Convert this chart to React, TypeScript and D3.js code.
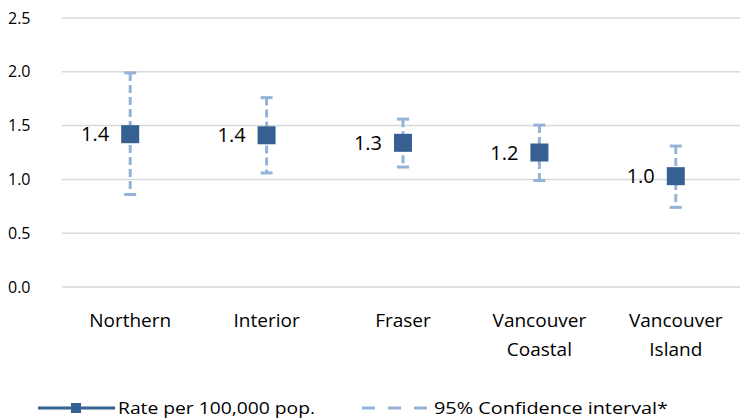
import React from "react";
import * as d3 from "d3";

const categories = [["Northern"], ["Interior"], ["Fraser"], ["Vancouver", "Coastal"], ["Vancouver", "Island"]];
const rates = [1.42, 1.41, 1.34, 1.25, 1.03];
const lower = [0.86, 1.06, 1.115, 0.99, 0.74];
const upper = [1.99, 1.76, 1.56, 1.505, 1.31];
const labels = ["1.4", "1.4", "1.3", "1.2", "1.0"];
const yTicks = [0, 0.5, 1, 1.5, 2, 2.5];

export default function App() {
  const W = 740, H = 419;
  const x = d3.scaleBand<number>().domain(d3.range(5)).range([62, 744]);
  const y = d3.scaleLinear().domain([0, 2.5]).range([287, 18]);
  const font = "'Open Sans', 'DejaVu Sans', sans-serif";
  const ci = "#95B3D7", mk = "#366092";
  return (
    <svg width={W} height={H} style={{ position: "absolute", left: 0, top: 0 }} fontFamily={font}>
      {yTicks.map(t => (
        <g key={t}>
          <line x1={62} x2={740} y1={y(t)} y2={y(t)} stroke="#d9d9d9" strokeWidth={1.5} />
          <text x={8} y={y(t)} dy="0.35em" fontSize={16} fill="#000">{t.toFixed(1)}</text>
        </g>
      ))}
      {rates.map((r, i) => {
        const cx = x(i)! + x.bandwidth() / 2;
        return (
          <g key={i}>
            <line x1={cx} x2={cx} y1={y(upper[i])} y2={y(lower[i])} stroke={ci} strokeWidth={3} strokeDasharray="8,4" />
            <line x1={cx - 6} x2={cx + 6} y1={y(upper[i])} y2={y(upper[i])} stroke={ci} strokeWidth={3} />
            <line x1={cx - 6} x2={cx + 6} y1={y(lower[i])} y2={y(lower[i])} stroke={ci} strokeWidth={3} />
            <rect x={cx - 9} y={y(r) - 9} width={18} height={18} fill={mk} />
            <text x={cx - 21} y={y(r)} dy="0.35em" textAnchor="end" fontSize={20} fill="#000">{labels[i]}</text>
            {categories[i].map((c, j) => (
              <text key={j} x={cx} y={327 + j * 29} textAnchor="middle" fontSize={19} fill="#000">{c}</text>
            ))}
          </g>
        );
      })}
      <g>
        <line x1={38} x2={115} y1={408} y2={408} stroke={mk} strokeWidth={3} />
        <rect x={71} y={403} width={10} height={10} fill={mk} />
        <text x={118} y={408} dy="0.35em" fontSize={16} fill="#000" textLength={197} lengthAdjust="spacingAndGlyphs">Rate per 100,000 pop.</text>
        <line x1={362} x2={434} y1={408} y2={408} stroke={ci} strokeWidth={3} strokeDasharray="13,13" />
        <text x={434} y={408} dy="0.35em" fontSize={16} fill="#000" textLength={234} lengthAdjust="spacingAndGlyphs">95% Confidence interval*</text>
      </g>
    </svg>
  );
}
